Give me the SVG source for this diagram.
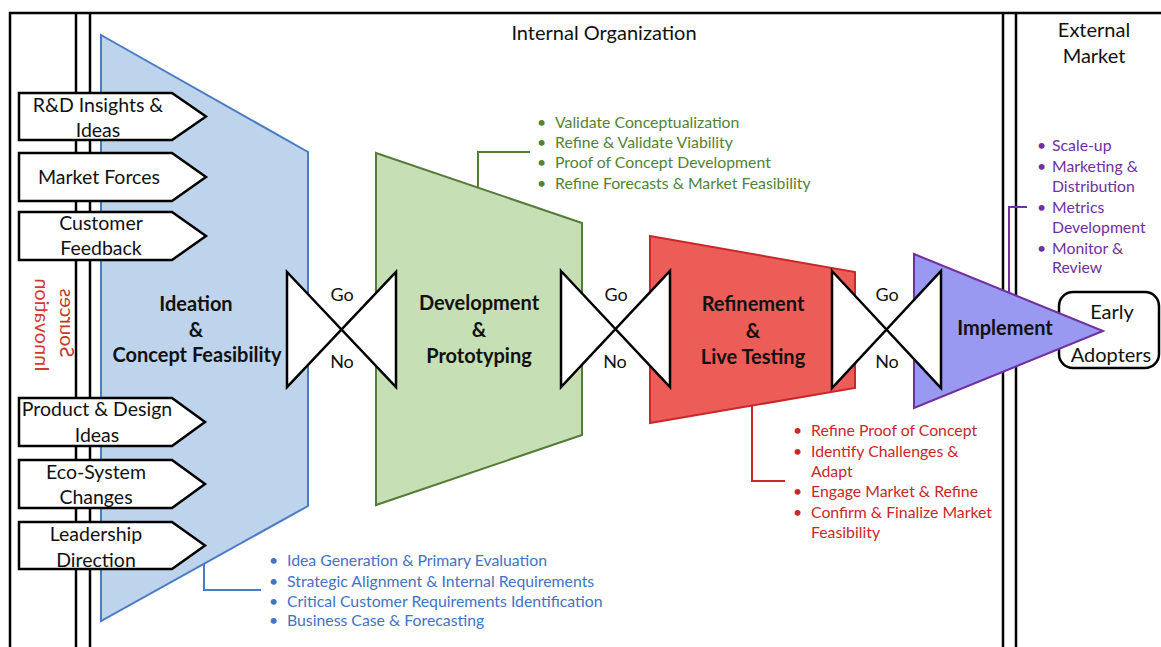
<svg xmlns="http://www.w3.org/2000/svg" width="1161" height="647" viewBox="0 0 1161 647">
<style>
text{font-family:Lato,"Open Sans","Liberation Sans",sans-serif;}
.frame{fill:none;stroke:#000;stroke-width:2.5;}
.inbox{fill:#fff;stroke:#000;stroke-width:2.5;stroke-linejoin:miter;}
.inlbl{font-size:19.5px;fill:#111;text-anchor:middle;}
.valve{fill:#fff;stroke:#000;stroke-width:2.5;stroke-linejoin:miter;}
.gono{font-size:18px;fill:#111;text-anchor:middle;}
.stage{font-size:20px;font-weight:bold;fill:#111;text-anchor:middle;}
.hdr{font-size:20px;fill:#111;text-anchor:middle;}
.b{font-size:15.8px;}
.blue{fill:#4472c4;}
.green{fill:#548235;}
.red{fill:#c8282a;}
.purple{fill:#7030a0;}
.conn{fill:none;stroke-width:2;}
</style>
<rect width="1161" height="647" fill="#fff"/>
<g id="frame">
<polyline class="frame" points="10,647 10,13 1161,13"/>
<line class="frame" x1="76" y1="13" x2="76" y2="647"/>
<line class="frame" x1="90" y1="13" x2="90" y2="647"/>
<line class="frame" x1="1003" y1="13" x2="1003" y2="647"/>
<line class="frame" x1="1016" y1="13" x2="1016" y2="647"/>
</g>
<g id="headers">
<text class="hdr" x="604" y="40">Internal Organization</text>
<text class="hdr" x="1094" y="37">External</text>
<text class="hdr" x="1094" y="63">Market</text>
</g>
<g id="innovation-sources">
<text transform="translate(35,325) rotate(-90) scale(1,-1)" font-size="20" fill="#d23a31" text-anchor="middle">Innovation</text>
<text transform="translate(60,323) rotate(-90) scale(1,-1)" font-size="20" fill="#c0392b" text-anchor="middle">Sources</text>
</g>
<g id="ideation">
<polygon points="101,35 308,152 308,506 101,621" fill="#bed3ec" stroke="#4a7cc4" stroke-width="2"/>
<text class="stage" x="196" y="311">Ideation</text>
<text class="stage" x="196" y="337">&amp;</text>
<text class="stage" x="197" y="362">Concept Feasibility</text>
</g>
<g id="development">
<polygon points="376,153 582,223 582,435 376,505" fill="#c6dfb5" stroke="#557b38" stroke-width="2"/>
<text class="stage" x="479" y="310">Development</text>
<text class="stage" x="479" y="337">&amp;</text>
<text class="stage" x="479" y="363">Prototyping</text>
</g>
<g id="refinement">
<polygon points="650,236 855,272 855,388 650,423" fill="#ec5d58" stroke="#c8282a" stroke-width="2"/>
<text class="stage" x="753" y="311">Refinement</text>
<text class="stage" x="753" y="338">&amp;</text>
<text class="stage" x="753" y="364">Live Testing</text>
</g>
<g id="early-adopters">
<rect x="1059" y="292" width="100" height="76" rx="14" fill="#fff" stroke="#000" stroke-width="2.5"/>
</g>
<g id="implement">
<polygon points="914,254 1103,331 914,408" fill="#9999f2" stroke="#7030a0" stroke-width="2"/>
<text class="stage" x="1005" y="335">Implement</text>
</g>
<g id="early-adopters-text">
<text class="hdr" x="1112" y="319">Early</text>
<text class="hdr" x="1111" y="362">Adopters</text>
</g>
<g id="inputs">
<g id="in-rd"><polygon class="inbox" points="19,93 172,93 206,116.5 172,140 19,140"/>
<text class="inlbl" x="98" y="111.5">R&amp;D Insights &amp;</text><text class="inlbl" x="98" y="136.5">Ideas</text></g>
<g id="in-mf"><polygon class="inbox" points="19,153 172,153 206,177 172,201 19,201"/>
<text class="inlbl" x="99" y="183.5">Market Forces</text></g>
<g id="in-cf"><polygon class="inbox" points="19,212 172,212 206,236 172,260 19,260"/>
<text class="inlbl" x="101" y="229.5">Customer</text><text class="inlbl" x="101" y="254.5">Feedback</text></g>
<g id="in-pd"><polygon class="inbox" points="19,398 172,398 205,422 172,446 19,446"/>
<text class="inlbl" x="97" y="415.5">Product &amp; Design</text><text class="inlbl" x="97" y="441.5">Ideas</text></g>
<g id="in-es"><polygon class="inbox" points="19,460 172,460 205,484 172,508 19,508"/>
<text class="inlbl" x="96" y="478.5">Eco-System</text><text class="inlbl" x="96" y="503.5">Changes</text></g>
<g id="in-ld"><polygon class="inbox" points="19,522 172,522 205,545.5 172,569 19,569"/>
<text class="inlbl" x="96" y="540.5">Leadership</text><text class="inlbl" x="96" y="566.5">Direction</text></g>
</g>
<g id="gates">
<g id="gate1"><polygon class="valve" points="287,272 396,387 396,272 287,387"/>
<text class="gono" x="342" y="301">Go</text><text class="gono" x="342" y="368">No</text></g>
<g id="gate2"><polygon class="valve" points="561,271 670,387 670,271 561,387"/>
<text class="gono" x="616" y="301">Go</text><text class="gono" x="615" y="368">No</text></g>
<g id="gate3"><polygon class="valve" points="832,271 941,388 941,271 832,388"/>
<text class="gono" x="887" y="301">Go</text><text class="gono" x="887" y="368">No</text></g>
</g>
<g id="connectors">
<polyline class="conn" stroke="#4a7cc4" points="204,564 204,590 261,590"/>
<polyline class="conn" stroke="#557b38" points="478,188 478,152 530,152"/>
<polyline class="conn" stroke="#c8282a" points="752,406 752,481 785,481"/>
<polyline class="conn" stroke="#7030a0" points="1009,293 1009,207 1027,207"/>
</g>
<g id="list-ideation" class="b blue">
<text x="269" y="565.5">•</text><text x="287" y="565.5">Idea Generation &amp; Primary Evaluation</text>
<text x="269" y="586.5">•</text><text x="287" y="586.5">Strategic Alignment &amp; Internal Requirements</text>
<text x="269" y="606.5">•</text><text x="287" y="606.5">Critical Customer Requirements Identification</text>
<text x="269" y="626">•</text><text x="287" y="626">Business Case &amp; Forecasting</text>
</g>
<g id="list-development" class="b green">
<text x="537" y="127.5">•</text><text x="555" y="127.5">Validate Conceptualization</text>
<text x="537" y="148">•</text><text x="555" y="148">Refine &amp; Validate Viability</text>
<text x="537" y="168">•</text><text x="555" y="168">Proof of Concept Development</text>
<text x="537" y="189">•</text><text x="555" y="189">Refine Forecasts &amp; Market Feasibility</text>
</g>
<g id="list-refinement" class="b red">
<text x="793" y="436">•</text><text x="811" y="436">Refine Proof of Concept</text>
<text x="793" y="457">•</text><text x="811" y="457">Identify Challenges &amp;</text>
<text x="811" y="477">Adapt</text>
<text x="793" y="497">•</text><text x="811" y="497">Engage Market &amp; Refine</text>
<text x="793" y="518">•</text><text x="811" y="518">Confirm &amp; Finalize Market</text>
<text x="811" y="538">Feasibility</text>
</g>
<g id="list-implement" class="b purple">
<text x="1037" y="150.5">•</text><text x="1052" y="150.5">Scale-up</text>
<text x="1037" y="171.5">•</text><text x="1052" y="171.5">Marketing &amp;</text>
<text x="1052" y="191.5">Distribution</text>
<text x="1037" y="212.5">•</text><text x="1052" y="212.5">Metrics</text>
<text x="1052" y="232.5">Development</text>
<text x="1037" y="253.5">•</text><text x="1052" y="253.5">Monitor &amp;</text>
<text x="1052" y="273">Review</text>
</g>
</svg>
